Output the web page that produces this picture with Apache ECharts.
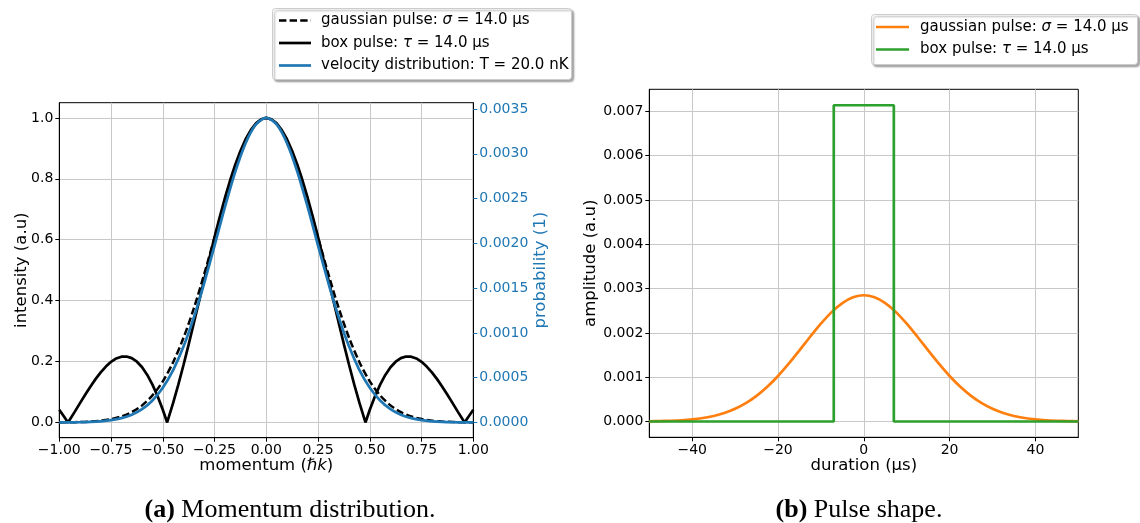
<!DOCTYPE html>
<html><head><meta charset="utf-8">
<script src="https://cdn.jsdelivr.net/npm/echarts@6/dist/echarts.min.js"></script>
<style>html,body{margin:0;padding:0;background:#fff}#c{width:1140px;height:523px}</style>
</head><body><div id="c"></div>
<script>
// ---- data ----
const momentumX = [-1,-0.95,-0.9,-0.85,-0.8,-0.75,-0.7,-0.65,-0.6,-0.55,-0.5,-0.45,-0.4,-0.35,-0.3,-0.25,-0.2,-0.15,-0.1,-0.05,0,0.05,0.1,0.15,0.2,0.25,0.3,0.35,0.4,0.45,0.5,0.55,0.6,0.65,0.7,0.75,0.8,0.85,0.9,0.95,1];
const gaussIntensity = [0.0003,0.0007,0.0015,0.0031,0.0060,0.0111,0.0198,0.0340,0.0561,0.0889,0.135,0.198,0.278,0.375,0.487,0.607,0.726,0.835,0.923,0.980,1,0.980,0.923,0.835,0.726,0.607,0.487,0.375,0.278,0.198,0.135,0.0889,0.0561,0.0340,0.0198,0.0111,0.0060,0.0031,0.0015,0.0007,0.0003];
const velocityProb = [0.0000006,0.0000014,0.0000031,0.0000065,0.0000133,0.0000258,0.0000483,0.0000867,0.000149,0.000246,0.000388,0.000585,0.000847,0.001173,0.001557,0.001975,0.002404,0.002798,0.003118,0.003327,0.0034,0.003327,0.003118,0.002798,0.002404,0.001975,0.001557,0.001173,0.000847,0.000585,0.000388,0.000246,0.000149,0.0000867,0.0000483,0.0000258,0.0000133,0.0000065,0.0000031,0.0000014,0.0000006];
const boxMomentumX = [-1,-0.975,-0.958,-0.925,-0.9,-0.875,-0.85,-0.825,-0.8,-0.775,-0.75,-0.725,-0.7,-0.675,-0.65,-0.625,-0.6,-0.575,-0.55,-0.525,-0.5,-0.479,-0.45,-0.425,-0.4,-0.375,-0.35,-0.325,-0.3,-0.275,-0.25,-0.225,-0.2,-0.175,-0.15,-0.125,-0.1,-0.075,-0.05,-0.025,0,0.025,0.05,0.075,0.1,0.125,0.15,0.175,0.2,0.225,0.25,0.275,0.3,0.325,0.35,0.375,0.4,0.425,0.45,0.479,0.5,0.525,0.55,0.575,0.6,0.625,0.65,0.675,0.7,0.725,0.75,0.775,0.8,0.825,0.85,0.875,0.9,0.925,0.958,0.975,1];
const boxIntensity = [0.0415,0.0174,0,0.0357,0.0636,0.0910,0.1175,0.1423,0.1646,0.1837,0.1991,0.2101,0.2161,0.2167,0.2112,0.1995,0.1812,0.1561,0.1242,0.0859,0.0419,0,0.0641,0.1240,0.1888,0.2563,0.3265,0.3973,0.4685,0.5394,0.6084,0.6746,0.7371,0.7945,0.8463,0.8916,0.9299,0.9602,0.9822,0.9955,1,0.9955,0.9822,0.9602,0.9299,0.8916,0.8463,0.7945,0.7371,0.6746,0.6084,0.5394,0.4685,0.3973,0.3265,0.2563,0.1888,0.1240,0.0641,0,0.0419,0.0859,0.1242,0.1561,0.1812,0.1995,0.2112,0.2167,0.2161,0.2101,0.1991,0.1837,0.1646,0.1423,0.1175,0.0910,0.0636,0.0357,0,0.0174,0.0415];
const timeX = [-50,-47.5,-45,-42.5,-40,-37.5,-35,-32.5,-30,-27.5,-25,-22.5,-20,-17.5,-15,-12.5,-10,-7.5,-5,-2.5,0,2.5,5,7.5,10,12.5,15,17.5,20,22.5,25,27.5,30,32.5,35,37.5,40,42.5,45,47.5,50];
const gaussAmplitude = [0.0000048,0.0000090,0.0000163,0.0000284,0.0000481,0.0000789,0.000125,0.000193,0.000287,0.000414,0.000579,0.000783,0.001027,0.001305,0.001605,0.001913,0.002208,0.002469,0.002674,0.002805,0.00285,0.002805,0.002674,0.002469,0.002208,0.001913,0.001605,0.001305,0.001027,0.000783,0.000579,0.000414,0.000287,0.000193,0.000125,0.0000789,0.0000481,0.0000284,0.0000163,0.0000090,0.0000048];
const boxTimeX = [-50,-7,-7,7,7,50];
const boxAmplitude = [0,0,0.00714,0.00714,0,0];
// tick values
const momentumTicks = [-1,-0.75,-0.5,-0.25,0,0.25,0.5,0.75,1];
const intensityTicks = [0,0.2,0.4,0.6,0.8,1.0];
const probabilityTicks = [0,0.0005,0.001,0.0015,0.002,0.0025,0.003,0.0035];
const durationTicks = [-40,-20,0,20,40];
const amplitudeTicks = [0,0.001,0.002,0.003,0.004,0.005,0.006,0.007];

const zip = (xs, ys) => xs.map((x, i) => [x, ys[i]]);
const FONT = 'DejaVu Sans';
const minus = s => s.replace('-', '\u2212');
const BLUE = '#1f77b4', ORANGE = '#ff7f0e', GREEN = '#2ca02c';
const GRIDC = '#c8c8c8';

const axisLineS = { show: true, onZero: false, lineStyle: { color: '#000', width: 1 } };
const tick = (vals, color) => ({ show: true, length: 4, customValues: vals, lineStyle: { color: color || '#000', width: 1 } });
const label = (vals, fmt, color) => ({ fontFamily: FONT, fontSize: 14, color: color || '#000', margin: 6, customValues: vals, formatter: fmt });
const split = { show: true, lineStyle: { color: GRIDC, width: 1 } };

const nameStyle = (color) => ({
  fontFamily: FONT, fontSize: 16.5, color,
  rich: {
    n: { fontFamily: FONT, fontSize: 16.5, color },
    i: { fontFamily: FONT, fontSize: 16.5, color, fontStyle: 'italic' }
  }
});

const chart = echarts.init(document.getElementById('c'), null, { renderer: 'canvas' });
const option = {
  animation: false,
  backgroundColor: '#fff',
  grid: [
    { left: 59.3, top: 102.7, width: 414, height: 335, show: true, borderColor: '#000', borderWidth: 1, backgroundColor: 'transparent', outerBoundsMode: 'none', containLabel: false },
    { left: 649.3, top: 89.3, width: 429, height: 348, show: true, borderColor: '#000', borderWidth: 1, backgroundColor: 'transparent', outerBoundsMode: 'none', containLabel: false }
  ],
  xAxis: [
    {
      type: 'value', gridIndex: 0, position: 'bottom', min: -1, max: 1, interval: 0.25,
      axisLine: axisLineS, axisTick: tick(momentumTicks), axisLabel: label(momentumTicks, v => minus(v.toFixed(2))),
      splitLine: split,
      name: '{n|momentum (}{i|ℏk}{n|)}', nameLocation: 'middle', nameGap: 20, nameMoveOverlap: false, nameTextStyle: nameStyle('#000')
    },
    {
      type: 'value', gridIndex: 1, position: 'bottom', min: -50, max: 50, splitNumber: 5,
      axisLine: axisLineS, axisTick: tick(durationTicks), axisLabel: label(durationTicks, v => minus(String(v))),
      splitLine: split,
      name: 'duration (µs)', nameLocation: 'middle', nameGap: 20, nameMoveOverlap: false, nameTextStyle: nameStyle('#000')
    }
  ],
  yAxis: [
    {
      type: 'value', gridIndex: 0, position: 'left', min: -0.05, max: 1.05, splitNumber: 5,
      axisLine: axisLineS, axisTick: tick(intensityTicks), axisLabel: label(intensityTicks, v => v.toFixed(1)),
      splitLine: split,
      name: 'intensity (a.u)', nameLocation: 'middle', nameGap: 29, nameMoveOverlap: false, nameTextStyle: nameStyle('#000')
    },
    {
      type: 'value', gridIndex: 0, position: 'right', min: -0.00017, max: 0.00357, splitNumber: 7,
      axisLine: axisLineS, axisTick: tick(probabilityTicks, BLUE), axisLabel: label(probabilityTicks, v => v.toFixed(4), BLUE),
      splitLine: { show: false },
      name: 'probability (1)', nameLocation: 'middle', nameGap: 59, nameMoveOverlap: false, nameTextStyle: nameStyle(BLUE)
    },
    {
      type: 'value', gridIndex: 1, position: 'left', min: -0.000357, max: 0.0075, splitNumber: 8,
      axisLine: axisLineS, axisTick: tick(amplitudeTicks), axisLabel: label(amplitudeTicks, v => v.toFixed(3)),
      splitLine: split,
      name: 'amplitude (a.u)', nameLocation: 'middle', nameGap: 50, nameMoveOverlap: false, nameTextStyle: nameStyle('#000')
    }
  ],
  series: [
    { name: 'gaussian pulse (momentum)', type: 'line', xAxisIndex: 0, yAxisIndex: 0, data: zip(momentumX, gaussIntensity), showSymbol: false, symbol: 'none', smooth: 0.3, z: 2, silent: true,
      lineStyle: { color: '#000', width: 2.5, type: [7.4, 3.2] } },
    { name: 'box pulse (momentum)', type: 'line', xAxisIndex: 0, yAxisIndex: 0, data: zip(boxMomentumX, boxIntensity), showSymbol: false, symbol: 'none', z: 3, silent: true,
      lineStyle: { color: '#000', width: 2.7 } },
    { name: 'velocity distribution', type: 'line', xAxisIndex: 0, yAxisIndex: 1, data: zip(momentumX, velocityProb), showSymbol: false, symbol: 'none', smooth: 0.3, z: 4, silent: true,
      lineStyle: { color: BLUE, width: 2.7 } },
    { name: 'gaussian pulse', type: 'line', xAxisIndex: 1, yAxisIndex: 2, data: zip(timeX, gaussAmplitude), showSymbol: false, symbol: 'none', smooth: 0.3, z: 2, silent: true,
      lineStyle: { color: ORANGE, width: 2.7 } },
    { name: 'box pulse', type: 'line', xAxisIndex: 1, yAxisIndex: 2, data: zip(boxTimeX, boxAmplitude), showSymbol: false, symbol: 'none', z: 3, silent: true,
      lineStyle: { color: GREEN, width: 2.7 } }
  ],
  graphic: []
};

// legends and captions
const legRich = {
  n: { fontFamily: FONT, fontSize: 15, fill: '#000' },
  i: { fontFamily: FONT, fontSize: 15, fill: '#000', fontStyle: 'italic' }
};
function legendBox(x, y, w, h) {
  return { type: 'rect', shape: { x, y, width: w, height: h, r: 3 }, z: 100,
    style: { fill: '#fff', stroke: '#cccccc', lineWidth: 1, shadowBlur: 2, shadowOffsetX: 2, shadowOffsetY: 2, shadowColor: 'rgba(0,0,0,0.35)' } };
}
function legendItem(x1, x2, tx, y, color, dash, text) {
  return [
    { type: 'line', shape: { x1, y1: y, x2, y2: y }, z: 101, style: { stroke: color, lineWidth: 2.7, lineDash: dash || null } },
    { type: 'text', x: tx, y, z: 101, style: { text, rich: legRich, font: '15px ' + FONT, fill: '#000', verticalAlign: 'middle', align: 'left' } }
  ];
}
const g = option.graphic;
g.push(legendBox(272.5, 8.5, 299, 71));
g.push(...legendItem(279, 311, 321, 20.5, '#000', [7.4, 3.2], '{n|gaussian pulse: }{i|σ}{n| = 14.0 µs}'));
g.push(...legendItem(279, 311, 321, 43, '#000', null, '{n|box pulse: }{i|τ}{n| = 14.0 µs}'));
g.push(...legendItem(279, 311, 321, 65.5, BLUE, null, '{n|velocity distribution: T = 20.0 nK}'));
g.push(legendBox(871.5, 14.5, 266, 50));
g.push(...legendItem(876, 909, 920, 27, ORANGE, null, '{n|gaussian pulse: }{i|σ}{n| = 14.0 µs}'));
g.push(...legendItem(876, 909, 920, 49.5, GREEN, null, '{n|box pulse: }{i|τ}{n| = 14.0 µs}'));
const capRich = {
  b: { fontFamily: 'Liberation Serif', fontSize: 26, fontWeight: 'bold', fill: '#000' },
  n: { fontFamily: 'Liberation Serif', fontSize: 26, fill: '#000' }
};
g.push({ type: 'text', x: 290, y: 510, style: { text: '{b|(a)} {n|Momentum distribution.}', rich: capRich, font: '26px Liberation Serif', align: 'center', verticalAlign: 'middle' } });
g.push({ type: 'text', x: 859, y: 510, style: { text: '{b|(b)} {n|Pulse shape.}', rich: capRich, font: '26px Liberation Serif', align: 'center', verticalAlign: 'middle' } });

chart.setOption(option);
</script>
</body></html>
